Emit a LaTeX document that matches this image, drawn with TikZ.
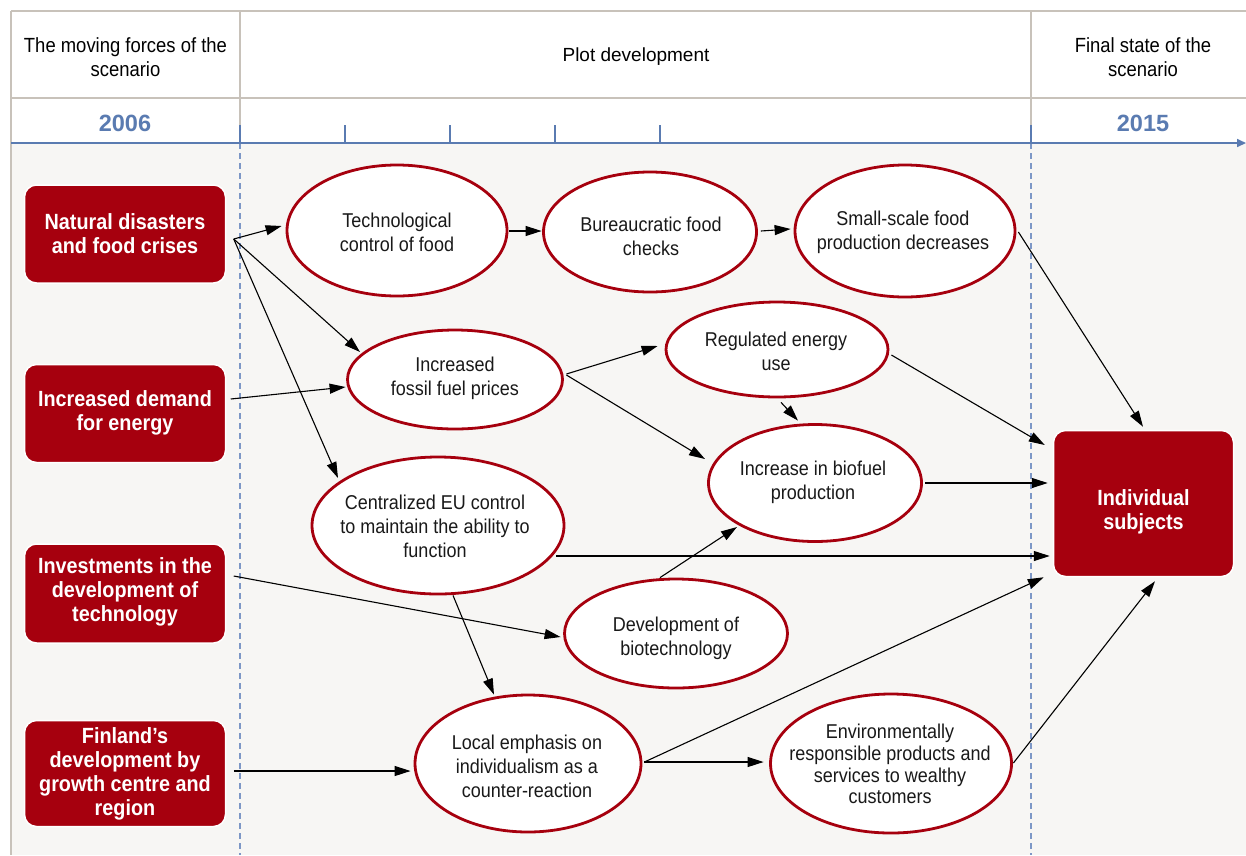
\documentclass[tikz,border=0pt]{standalone}
\usepackage{fontspec}
\setmainfont{Liberation Sans}
\newfontfamily\cond[FakeStretch=0.9]{Liberation Sans}
\usetikzlibrary{shapes.geometric,arrows.meta,calc}
\definecolor{dred}{HTML}{A6000E}
\definecolor{bggray}{HTML}{F7F6F4}
\definecolor{tline}{HTML}{C8C2BA}
\definecolor{axblue}{HTML}{5A7BB1}
\definecolor{dashblue}{HTML}{7D97C6}
\tikzset{
  redbox/.style={draw=white, line width=1.5pt, fill=dred, rounded corners=12pt, inner sep=0pt},
  boxtext/.style={text=white, align=center, font=\cond\bfseries\fontsize{22}{24}\selectfont, inner sep=0pt},
  oval/.style={ellipse, draw=dred, line width=2.8pt, fill=white, inner sep=0pt},
  etext/.style={align=center, font=\cond\fontsize{20}{24}\selectfont, text=black!90, inner sep=0pt},
  arr/.style={-{Triangle[length=16pt,width=10pt]}, line width=1.1pt, black},
  head/.style={align=center, font=\cond\fontsize{20.5}{24}\selectfont, inner sep=0pt},
  year/.style={text=axblue, font=\bfseries\fontsize{23.5}{24}\selectfont, inner sep=0pt},
  tick/.style={axblue, line width=1.4pt},
}
\begin{document}
\begin{tikzpicture}[x=1pt,y=-1pt]
\useasboundingbox (0,0) rectangle (1246,855);
\fill[white] (0,0) rectangle (1246,855);
% background
\fill[bggray] (11,143) rectangle (1246,855);
% table lines
\draw[tline, line width=1.5pt] (11,11) -- (1246,11);
\draw[tline, line width=1.5pt] (11,98) -- (1246,98);
\draw[tline, line width=1.5pt] (11,11) -- (11,855);
\draw[tline, line width=1.5pt] (240,11) -- (240,125);
\draw[tline, line width=1.5pt] (1031,11) -- (1031,125);
% dashed lines
\draw[dashblue, line width=1.2pt, dash pattern=on 6pt off 4pt] (240,143) -- (240,855);
\draw[dashblue, line width=1.2pt, dash pattern=on 6pt off 4pt] (1031,143) -- (1031,855);
% axis
\coordinate (axl) at (11,143);
\coordinate (axr) at (1246,143);
\draw[axblue, line width=1.6pt, -{Triangle[length=9pt,width=8pt]}] (axl) -- (axr);
\foreach \tx in {240,345,450,555,660,1031}{
  \draw[tick] (\tx,125) -- (\tx,143);
}
% header texts
\node[head] (h1) at (125.5,57) {The moving forces of the\\scenario};
\node[font=\fontsize{19}{20}\selectfont, inner sep=0pt] (h2) at (636,57) {Plot development};
\node[head] (h3) at (1143,57) {Final state of the\\scenario};
\node[year] (y1) at (125,123) {2006};
\node[year] (y2) at (1143,123) {2015};

% red boxes
\node[redbox, minimum width=201pt, minimum height=98pt] (nd) at (125,234) {};
\node[boxtext] at (125,233.5) {Natural disasters\\and food crises};
\node[redbox, minimum width=201pt, minimum height=98pt] (dem) at (125,413.5) {};
\node[boxtext] at (125,413) {Increased demand\\for energy};
\node[redbox, minimum width=201pt, minimum height=99pt] (inv) at (125,593.5) {};
\node[boxtext] at (125,592) {Investments in the\\development of\\technology};
\node[redbox, minimum width=201pt, minimum height=106pt] (fin) at (125,773.5) {};
\node[boxtext] at (125,774) {Finland’s\\development by\\growth centre and\\region};
\node[redbox, minimum width=180pt, minimum height=146pt] (ind) at (1143.5,503.5) {};
\node[boxtext] at (1143.5,512) {Individual\\subjects};

% ovals
\node[oval, minimum width=220pt, minimum height=131pt] (tech) at (397,230.5) {};
\node[etext] at (397,232) {Technological\\control of food};
\node[oval, minimum width=213pt, minimum height=120pt] (bur) at (650,232) {};
\node[etext] at (651,236) {Bureaucratic food\\checks};
\node[oval, minimum width=220pt, minimum height=132pt] (small) at (905,231) {};
\node[etext] at (903,232) {Small-scale food\\production decreases};
\node[oval, minimum width=215pt, minimum height=99pt] (fos) at (455,379.5) {};
\node[etext] at (455,378) {Increased\\fossil fuel prices};
\node[oval, minimum width=222pt, minimum height=95pt] (reg) at (777,349.5) {};
\node[etext] at (776,351) {Regulated energy\\use};
\node[oval, minimum width=213pt, minimum height=117pt] (bio) at (815,483) {};
\node[etext] at (813,482) {Increase in biofuel\\production};
\node[oval, minimum width=252pt, minimum height=137pt] (cen) at (438,525.5) {};
\node[etext] at (435,526) {Centralized EU control\\to maintain the ability to\\function};
\node[oval, minimum width=223pt, minimum height=109pt] (biot) at (676,633.5) {};
\node[etext] at (676,638) {Development of\\biotechnology};
\node[oval, minimum width=226pt, minimum height=137pt] (loc) at (528,763.5) {};
\node[etext] at (527,766) {Local emphasis on\\individualism as a\\counter-reaction};
\node[oval, minimum width=241pt, minimum height=139pt] (env) at (891,763.5) {};
\node[etext, font=\cond\fontsize{20}{21.7}\selectfont] at (890,764) {Environmentally\\responsible products and\\services to wealthy\\customers};

% arrows
\draw[arr] ($(nd.east)+(7.5,5)$) -- ($(tech.west)+(-4,-4.5)$);
\draw[arr] ($(nd.east)+(7.5,5)$) -- ($(fos.center)+(-95,-27.5)$);
\draw[arr] ($(nd.east)+(7.5,5)$) -- ($(cen.center)+(-100,-47.5)$);
\draw[arr] ($(tech.east)+(1,0.5)$) -- ($(bur.west)+(-0.5,-1)$);
\draw[arr] ($(bur.east)+(3,-1)$) -- ($(small.west)+(-3,-2)$);
\draw[arr] ($(small.east)+(2,1)$) -- ($(ind.north)+(-0.5,-3)$);
\draw[arr] ($(dem.east)+(4.5,-14.5)$) -- ($(fos.west)+(-0.5,7.5)$);
\draw[arr] ($(fos.east)+(2.5,-5.5)$) -- ($(reg.west)+(-7,-3.5)$);
\draw[arr] ($(fos.east)+(2.5,-4.5)$) -- ($(bio.center)+(-110,-24)$);
\draw[arr] ($(reg.south)+(4,4)$) -- ($(bio.north)+(-17,-2.5)$);
\draw[arr] ($(reg.east)+(2,5.5)$) -- ($(ind.west)+(-8,-58.5)$);
\draw[arr] ($(bio.east)+(2.5,0)$) -- ($(ind.west)+(-5,-20.5)$);
\draw[arr] ($(cen.center)+(118,30.5)$) -- ($(ind.west)+(-3,52.5)$);
\draw[arr] ($(inv.east)+(7.5,-17.5)$) -- ($(biot.west)+(-2.5,3.5)$);
\draw[arr] ($(biot.north)+(-16,0)$) -- ($(bio.center)+(-78,44)$);
\draw[arr] ($(cen.south)+(15,0)$) -- ($(loc.north)+(-34,1)$);
\draw[arr] ($(fin.east)+(7.5,-2.5)$) -- ($(loc.west)+(-3,7.5)$);
\draw[arr] ($(loc.east)+(2,-1.5)$) -- ($(ind.south west)+(-9,0)$);
\draw[arr] ($(loc.east)+(2,-1.5)$) -- ($(env.west)+(-5.5,-1.5)$);
\draw[arr] ($(env.east)+(0.5,-0.5)$) -- ($(ind.south)+(11.5,4)$);
\end{tikzpicture}
\end{document}
